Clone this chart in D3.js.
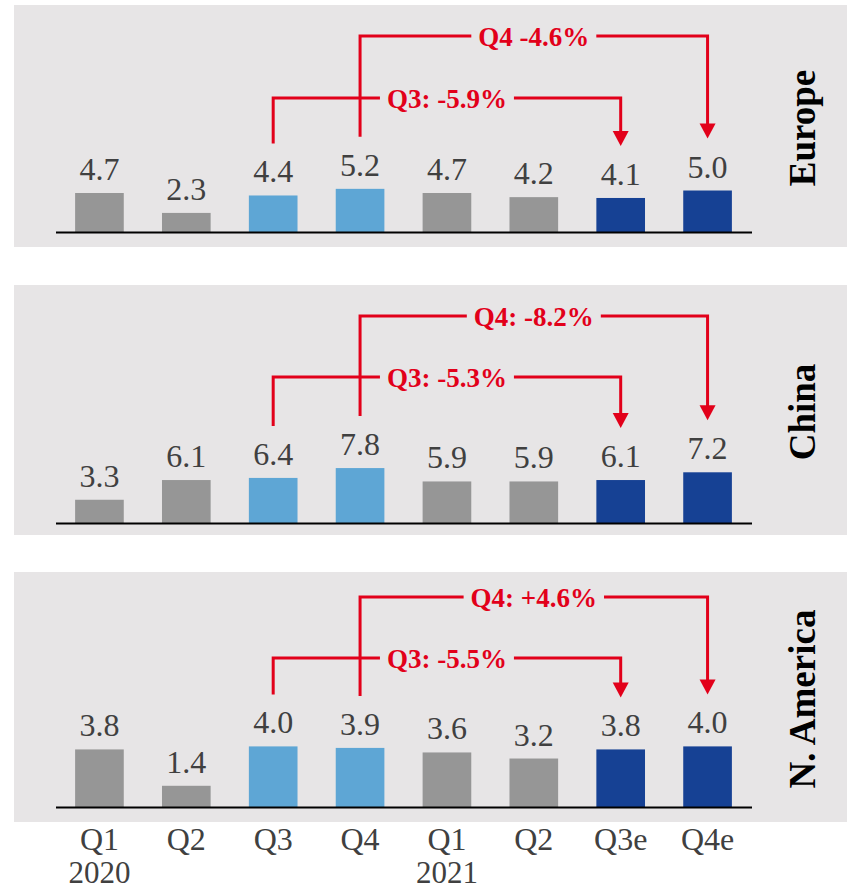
<!DOCTYPE html>
<html>
<head>
<meta charset="utf-8">
<script src="https://cdn.jsdelivr.net/npm/d3@7"></script>
<style>
  html, body { margin: 0; padding: 0; background: #ffffff; }
  svg { display: block; }
</style>
</head>
<body>
<svg id="chart" width="847" height="892"></svg>
<script>
// ---- data ----
const categories = ["Q1", "Q2", "Q3", "Q4", "Q1", "Q2", "Q3e", "Q4e"];
const years = ["2020", "", "", "", "2021", "", "", ""];
const barGroups = ["past", "past", "base", "base", "past", "past", "est", "est"];
const regions = ["Europe", "China", "N. America"];
const europeValues = [4.7, 2.3, 4.4, 5.2, 4.7, 4.2, 4.1, 5.0];
const chinaValues = [3.3, 6.1, 6.4, 7.8, 5.9, 5.9, 6.1, 7.2];
const nAmericaValues = [3.8, 1.4, 4.0, 3.9, 3.6, 3.2, 3.8, 4.0];
const q3Labels = ["Q3: -5.9%", "Q3: -5.3%", "Q3: -5.5%"];
const q4Labels = ["Q4 -4.6%", "Q4: -8.2%", "Q4: +4.6%"];

const seriesValues = [europeValues, chinaValues, nAmericaValues];

// ---- styling / layout ----
const W = 847;
const BG = "#e7e5e6";
const RED = "#e2001a";
const TXT = "#404040";
const colors = { past: "#969696", base: "#5ea6d5", est: "#164194" };
const SERIF = "'Liberation Serif', 'Times New Roman', serif";

const panels = [
  { top: 5,   bottom: 247, base: 232, yMax: 24.1, q4y: 31, q3y: 93 },
  { top: 285, bottom: 535, base: 523, yMax: 28.4, q4y: 31, q3y: 92 },
  { top: 572, bottom: 822, base: 807, yMax: 13.2, q4y: 25, q3y: 86 }
];

const svg = d3.select("#chart");

const x = d3.scaleBand()
  .domain(d3.range(categories.length))
  .range([56, 751])
  .paddingInner(0.44)
  .paddingOuter(0.22);

panels.forEach((p, pi) => {
  const values = seriesValues[pi];
  const g = svg.append("g");

  g.append("rect")
    .attr("x", 14).attr("y", p.top)
    .attr("width", W - 14).attr("height", p.bottom - p.top)
    .attr("fill", BG);

  const y = d3.scaleLinear().domain([0, p.yMax]).range([p.base, p.base - 200]);

  // bars
  g.selectAll("rect.bar")
    .data(values)
    .join("rect")
    .attr("class", "bar")
    .attr("x", (d, i) => x(i))
    .attr("width", x.bandwidth())
    .attr("y", d => y(d))
    .attr("height", d => y(0) - y(d))
    .attr("fill", (d, i) => colors[barGroups[i]]);

  // value labels
  g.selectAll("text.val")
    .data(values)
    .join("text")
    .attr("class", "val")
    .attr("x", (d, i) => x(i) + x.bandwidth() / 2)
    .attr("y", d => y(d) - 13)
    .attr("text-anchor", "middle")
    .attr("font-family", SERIF)
    .attr("font-size", 32)
    .attr("fill", TXT)
    .text(d => d.toFixed(1));

  // baseline axis
  g.append("line")
    .attr("x1", 56).attr("x2", 752)
    .attr("y1", p.base + 0.5).attr("y2", p.base + 0.5)
    .attr("stroke", "#000").attr("stroke-width", 2);

  // region label
  const cy = (p.top + p.bottom) / 2 + 2;
  g.append("text")
    .attr("transform", `translate(815,${cy}) rotate(-90)`)
    .attr("text-anchor", "middle")
    .attr("font-family", SERIF)
    .attr("font-weight", "bold")
    .attr("font-size", 37)
    .attr("fill", "#000")
    .text(regions[pi]);

  // annotations: brackets from Q3/Q4 2020 to Q3e/Q4e
  const cx = i => x(i) + x.bandwidth() / 2;
  const brackets = [
    { from: 3, to: 7, ly: p.top + p.q4y, label: q4Labels[pi] },
    { from: 2, to: 6, ly: p.top + p.q3y, label: q3Labels[pi] }
  ];
  const ag = g.append("g");
  brackets.forEach(b => {
    const startY = y(values[b.from]) - 52;
    const tipY = y(values[b.to]) - 52;
    const x1 = cx(b.from), x2 = cx(b.to);
    ag.append("path")
      .attr("d", `M${x1},${startY}V${b.ly}H${x2}V${tipY - 13}`)
      .attr("fill", "none")
      .attr("stroke", RED)
      .attr("stroke-width", 3);
    ag.append("path")
      .attr("d", `M${x2 - 8},${tipY - 15}L${x2 + 8},${tipY - 15}L${x2},${tipY}Z`)
      .attr("fill", RED);
  });
  brackets.forEach(b => {
    const mx = (cx(b.from) + cx(b.to)) / 2;
    const t = ag.append("text")
      .attr("x", mx)
      .attr("y", b.ly + 10)
      .attr("text-anchor", "middle")
      .attr("font-family", SERIF)
      .attr("font-weight", "bold")
      .attr("font-size", 27)
      .attr("fill", RED)
      .text(b.label);
    const bb = t.node().getBBox();
    ag.insert("rect", () => t.node())
      .attr("x", bb.x - 7).attr("width", bb.width + 14)
      .attr("y", b.ly - 4).attr("height", 8)
      .attr("fill", BG);
  });
});

// bottom category axis
const axisG = svg.append("g");
axisG.selectAll("text.cat")
  .data(categories)
  .join("text")
  .attr("class", "cat")
  .attr("x", (d, i) => x(i) + x.bandwidth() / 2)
  .attr("y", 850)
  .attr("text-anchor", "middle")
  .attr("font-family", SERIF)
  .attr("font-size", 32)
  .attr("fill", TXT)
  .text(d => d);
axisG.selectAll("text.yr")
  .data(years)
  .join("text")
  .attr("class", "yr")
  .attr("x", (d, i) => x(i) + x.bandwidth() / 2)
  .attr("y", 883)
  .attr("text-anchor", "middle")
  .attr("font-family", SERIF)
  .attr("font-size", 31)
  .attr("fill", TXT)
  .text(d => d);
</script>
</body>
</html>
